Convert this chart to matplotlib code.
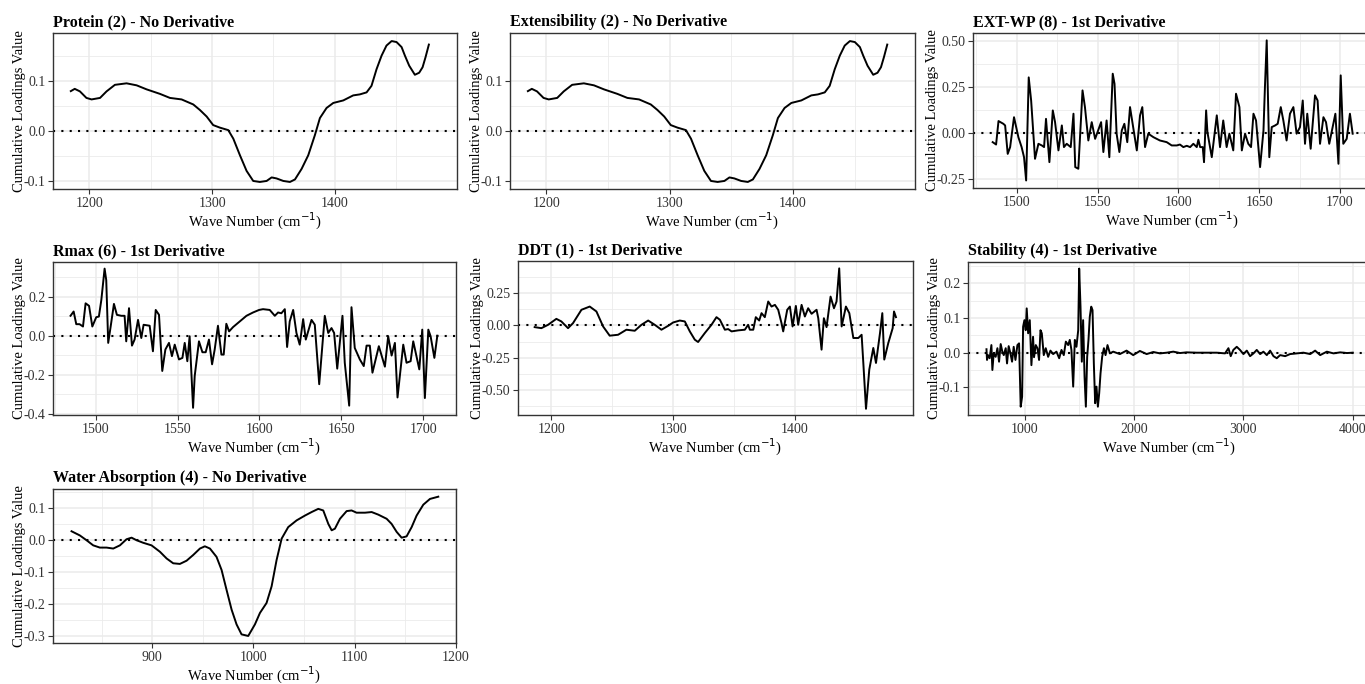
import matplotlib
matplotlib.use('Agg')
from matplotlib import pyplot as plt
from matplotlib.ticker import MultipleLocator, FormatStrFormatter

plt.rcParams['font.family'] = ['Liberation Serif', 'DejaVu Serif']
plt.rcParams['axes.unicode_minus'] = False

# ---- data ----
protein_x = [1185.0, 1188.2, 1192.4, 1197.7, 1201.9, 1208.8, 1214.1, 1220.9, 1230.4, 1238.6, 1246.7,
             1257.6, 1265.7, 1275.2, 1284.7, 1290.1, 1295.6, 1300.9, 1306.3, 1313.2, 1317.3, 1322.7,
             1328.1, 1333.5, 1338.9, 1344.4, 1348.5, 1352.5, 1358.0, 1363.4, 1367.5, 1372.9, 1378.3,
             1383.7, 1387.8, 1393.2, 1398.7, 1406.8, 1414.9, 1420.3, 1425.8, 1429.8, 1433.9,
             1438.0, 1442.0, 1446.2, 1450.2, 1454.3, 1457.0, 1460.5, 1465.1, 1468.6, 1471.4,
             1473.8, 1476.5]
protein_y = [0.0795, 0.084, 0.079, 0.066, 0.063, 0.066, 0.079, 0.092, 0.095, 0.091, 0.083, 0.074,
             0.066, 0.063, 0.053, 0.042, 0.029, 0.012, 0.007, 0.002, -0.015, -0.048,
             -0.079, -0.099, -0.101, -0.099, -0.092, -0.094, -0.099, -0.101, -0.096, -0.075, -0.048,
             -0.008, 0.026, 0.046, 0.056, 0.061, 0.071, 0.073, 0.077, 0.090, 0.123,
             0.150, 0.170, 0.179, 0.177, 0.167, 0.150, 0.130, 0.112, 0.116, 0.127,
             0.147, 0.172]

# extensibility loadings are the same as protein
ext_x = protein_x
ext_y = protein_y

extwp_x = [1485.1, 1487.2, 1488.7, 1491.7, 1492.8, 1494.4, 1495.9, 1498.3, 1501.0, 1503.0, 1504.5,
           1505.8, 1507.4, 1508.9, 1511.3, 1513.4, 1515.5, 1516.9, 1518.1, 1520.2, 1522.3, 1523.7,
           1525.8, 1527.9, 1529.2, 1530.9, 1533.4, 1535.1, 1536.2, 1538.1, 1540.7, 1542.2, 1544.3,
           1546.4, 1548.5, 1552.2, 1553.6, 1555.6, 1557.3, 1559.4, 1560.5, 1561.8, 1563.5, 1565.0,
           1566.6, 1568.4, 1570.1, 1572.2, 1574.3, 1576.3, 1577.7, 1579.4, 1581.4, 1584.6, 1588.6,
           1592.8, 1595.9, 1599.0, 1601.0, 1603.1, 1605.2, 1607.3, 1609.3, 1611.4, 1612.4, 1613.5,
           1615.1, 1615.9, 1617.2, 1618.0, 1620.7, 1623.8, 1625.8, 1627.8, 1629.9, 1631.6, 1634.0,
           1635.7, 1637.8, 1639.3, 1641.3, 1643.3, 1645.0, 1646.5, 1648.1, 1650.6, 1652.7, 1653.6,
           1654.7, 1656.3, 1657.8, 1659.9, 1661.5, 1663.4, 1665.0, 1667.0, 1669.1, 1671.2, 1673.2,
           1675.3, 1677.0, 1678.4, 1679.8, 1681.9, 1684.6, 1686.2, 1687.7, 1689.8, 1691.4, 1693.4,
           1697.2, 1699.1, 1700.5, 1702.1, 1704.2, 1706.2, 1707.9]
extwp_y = [-0.051, -0.064, 0.064, 0.049, 0.040, -0.115, -0.078, 0.085, -0.024, -0.078, -0.133,
           -0.260, 0.302, 0.176, -0.142, -0.060, -0.069, -0.078, 0.076, -0.160, 0.122, 0.058,
           -0.096, 0.040, -0.078, -0.060, -0.078, 0.104, -0.187, -0.196, 0.231, 0.140, -0.042,
           0.058, -0.033, 0.058, -0.105, 0.067, -0.133, 0.322, 0.267, -0.005, -0.105, 0.013,
           0.049, -0.051, 0.140, 0.022, -0.096, 0.095, 0.140, -0.078, -0.005, -0.024, -0.042,
           -0.051, -0.069, -0.069, -0.064, -0.078, -0.071, -0.078, -0.060, -0.078, -0.038, -0.078,
           -0.078, -0.160, 0.122, 0.004, -0.133, 0.095, -0.078, 0.067, -0.078, -0.005, -0.096,
           0.213, 0.140, -0.096, -0.005, -0.060, -0.078, 0.104, 0.067, -0.187, 0.013, 0.249,
           0.504, -0.133, 0.031, 0.040, 0.049, 0.140, 0.067, -0.042, 0.104, 0.140, -0.005,
           0.031, 0.176, -0.060, 0.104, -0.087, 0.204, 0.176, -0.060, 0.085, 0.058, -0.060,
           0.104, -0.169, 0.313, -0.060, -0.033, 0.104, -0.005]

rmax_x = [1484.7, 1486.6, 1488.2, 1490.2, 1492.3, 1493.9, 1496.0, 1498.0, 1500.4, 1502.0, 1503.5,
          1505.5, 1506.5, 1507.7, 1509.2, 1511.2, 1513.0, 1515.7, 1517.7, 1518.7, 1520.4, 1522.2,
          1523.8, 1525.9, 1527.9, 1529.3, 1533.0, 1535.0, 1536.7, 1538.7, 1540.7, 1542.6, 1544.8,
          1546.6, 1548.3, 1550.9, 1553.0, 1554.4, 1556.0, 1557.4, 1559.5, 1560.5, 1563.1, 1565.2,
          1567.2, 1569.2, 1571.1, 1572.7, 1574.7, 1576.8, 1578.2, 1579.8, 1581.5, 1583.9, 1588.0,
          1592.1, 1596.1, 1599.8, 1602.2, 1606.3, 1609.4, 1611.4, 1613.4, 1615.5, 1616.9, 1618.5,
          1620.6, 1622.6, 1624.6, 1626.7, 1628.3, 1631.8, 1633.8, 1636.5, 1639.9, 1642.0, 1644.0,
          1645.6, 1647.5, 1650.7, 1652.1, 1654.8, 1656.2, 1658.2, 1661.3, 1663.7, 1665.4, 1667.4,
          1669.0, 1672.9, 1676.6, 1678.6, 1680.7, 1682.7, 1684.3, 1687.8, 1689.8, 1692.3, 1693.9,
          1697.6, 1699.4, 1701.0, 1703.1, 1704.5, 1706.8, 1708.6]
rmax_y = [0.102, 0.124, 0.059, 0.059, 0.047, 0.166, 0.153, 0.047, 0.095, 0.098, 0.183,
          0.344, 0.285, -0.037, 0.047, 0.163, 0.107, 0.102, 0.102, -0.029, 0.141, -0.051,
          -0.020, 0.081, -0.012, 0.056, 0.051, -0.080, 0.132, 0.107, -0.181, -0.071, -0.037,
          -0.105, -0.046, -0.122, -0.114, -0.037, -0.131, -0.003, -0.370, -0.207, -0.029, -0.085,
          -0.085, -0.020, -0.147, -0.071, 0.051, -0.097, -0.097, 0.061, 0.022, 0.044, 0.073,
          0.102, 0.119, 0.132, 0.136, 0.132, 0.102, 0.119, 0.115, 0.136, -0.058, 0.073,
          0.132, 0.014, -0.046, 0.085, -0.020, 0.081, 0.056, -0.249, 0.102, 0.014, 0.039,
          0.014, -0.169, 0.102, -0.139, -0.359, 0.146, -0.063, -0.122, -0.156, -0.051, -0.051,
          -0.190, -0.054, -0.159, -0.003, -0.102, -0.037, -0.317, -0.046, -0.139, -0.131, -0.029,
          -0.173, 0.031, -0.320, 0.031, -0.003, -0.114, 0.000]

ddt_x = [1186.3, 1191.8, 1197.3, 1204.1, 1208.2, 1213.7, 1217.8, 1224.7, 1231.5, 1237.0, 1242.5,
         1247.9, 1254.8, 1261.6, 1268.5, 1274.0, 1279.5, 1284.9, 1290.4, 1295.9, 1300.0, 1305.5,
         1309.6, 1313.7, 1317.8, 1320.5, 1326.0, 1331.5, 1335.6, 1338.4, 1342.5, 1345.2, 1348.0,
         1353.4, 1358.9, 1361.6, 1363.0, 1365.8, 1367.9, 1370.7, 1372.6, 1375.3, 1378.1, 1380.8,
         1383.6, 1386.3, 1389.0, 1390.4, 1393.7, 1395.9, 1398.1, 1400.8, 1402.7, 1405.5, 1408.2,
         1410.9, 1413.7, 1417.8, 1419.2, 1421.9, 1423.8, 1426.0, 1429.3, 1432.1, 1434.2, 1436.4,
         1438.4, 1441.9, 1444.7, 1448.0, 1452.1, 1454.8, 1456.2, 1458.4, 1461.1, 1464.4, 1466.6,
         1469.9, 1471.8, 1473.4, 1476.7, 1480.3, 1481.4, 1483.0]
ddt_y = [-0.013, -0.021, 0.005, 0.051, 0.031, -0.021, 0.018, 0.121, 0.146, 0.108, -0.008,
         -0.079, -0.072, -0.033, -0.041, 0.005, 0.038, 0.005, -0.033, -0.003, 0.023, 0.038,
         0.031, -0.046, -0.110, -0.128, -0.059, 0.005, 0.064, 0.044, -0.033, -0.028, -0.046,
         -0.038, -0.033, 0.005, -0.033, -0.033, 0.064, 0.038, 0.095, 0.064, 0.185, 0.146,
         0.159, 0.121, 0.018, -0.046, 0.121, 0.146, -0.008, 0.151, 0.005, 0.159, 0.069,
         0.133, 0.090, 0.121, 0.056, -0.187, 0.056, -0.013, 0.223, 0.133, 0.185, 0.441,
         -0.008, 0.146, 0.095, -0.097, -0.097, -0.072, -0.290, -0.644, -0.341, -0.174, -0.290,
         -0.059, 0.095, -0.264, -0.136, -0.021, 0.108, 0.064]

stab_x = [650, 655, 664, 679, 695, 704, 716, 734, 750, 765, 780, 795, 808, 826, 838, 853, 869,
          884, 899, 915, 933, 948, 963, 976, 985, 997, 1009, 1018, 1031, 1046, 1061, 1076, 1085,
          1101, 1116, 1131, 1144, 1156, 1174, 1192, 1214, 1235, 1260, 1290, 1315, 1336, 1357,
          1376, 1397, 1412, 1427, 1443, 1458, 1473, 1489, 1498, 1510, 1522, 1534, 1547, 1559,
          1571, 1583, 1595, 1608, 1620, 1632, 1644, 1656, 1669, 1681, 1693, 1708, 1724, 1739,
          1757, 1779, 1809, 1870, 1931, 1992, 2053, 2115, 2176, 2237, 2298, 2359, 2420, 2481,
          2573, 2664, 2756, 2832, 2863, 2884, 2908, 2939, 2969, 3000, 3031, 3061, 3092, 3122,
          3153, 3183, 3214, 3244, 3275, 3305, 3336, 3382, 3427, 3489, 3550, 3611, 3656, 3702,
          3763, 3824, 3885, 3947, 4000]
stab_y = [0.010, -0.021, -0.007, -0.016, 0.022, -0.050, -0.002, -0.012, 0.013, -0.026, 0.025,
          0.003, -0.007, 0.013, -0.031, 0.019, -0.002, -0.026, 0.017, -0.021, 0.022, 0.027,
          -0.156, -0.127, 0.075, 0.094, 0.065, 0.128, 0.056, 0.094, -0.036, 0.046, -0.013,
          0.022, 0.013, -0.021, 0.065, 0.056, -0.007, 0.013, -0.012, 0.006, -0.004, 0.003,
          -0.016, 0.008, -0.007, 0.032, 0.022, 0.037, 0.008, -0.098, 0.037, 0.017, 0.065,
          0.243, 0.133, -0.026, 0.094, -0.069, -0.156, -0.012, 0.037, 0.104, 0.133, 0.123,
          -0.031, -0.146, -0.098, -0.156, -0.117, -0.060, -0.012, 0.013, -0.007, 0.022, -0.002,
          0.003, -0.004, 0.006, -0.007, 0.005, -0.004, 0.002, -0.002, 0.000, 0.003, -0.001,
          0.001, 0.000, 0.000, 0.000, -0.002, 0.013, -0.010, 0.008, 0.017, 0.008, -0.004,
          0.006, -0.010, -0.002, 0.008, -0.004, 0.003, -0.007, 0.006, -0.010, -0.016, -0.007,
          -0.010, -0.004, -0.002, 0.000, -0.004, 0.006, -0.007, 0.003, -0.002, 0.001, -0.001,
          0.000]

water_x = [820.3, 828.5, 835.1, 841.7, 848.3, 854.9, 861.5, 868.1, 874.6, 879.6, 884.5, 891.1,
           899.3, 907.6, 914.2, 920.7, 927.3, 933.9, 940.5, 947.1, 952.0, 957.0, 963.5, 968.5,
           973.4, 978.4, 983.3, 988.2, 994.8, 1001.4, 1006.4, 1012.9, 1017.9, 1022.8, 1027.8,
           1034.3, 1042.6, 1050.8, 1057.4, 1064.0, 1068.9, 1073.9, 1077.2, 1080.4, 1085.4, 1092.0,
           1096.9, 1101.8, 1110.1, 1116.7, 1123.2, 1131.5, 1136.4, 1141.4, 1146.3, 1151.2, 1156.2,
           1161.1, 1167.7, 1174.3, 1182.5]
water_y = [0.026, 0.013, -0.002, -0.018, -0.025, -0.025, -0.028, -0.018, 0.001, 0.006, -0.002, -0.010,
           -0.018, -0.038, -0.059, -0.074, -0.076, -0.066, -0.048, -0.028, -0.021, -0.028, -0.054, -0.095,
           -0.157, -0.219, -0.265, -0.296, -0.301, -0.265, -0.229, -0.198, -0.146, -0.064, 0.003,
           0.039, 0.060, 0.075, 0.086, 0.096, 0.091, 0.049, 0.029, 0.034, 0.065, 0.089,
           0.091, 0.084, 0.084, 0.086, 0.078, 0.065, 0.049, 0.024, 0.006, 0.010, 0.039,
           0.075, 0.109, 0.127, 0.134]

W, H = 1365, 684
fig = plt.figure(figsize=(W / 100, H / 100), dpi=100)


def panel(box, x, y, title, xlim, ylim, xmaj, ymaj, yfmt):
    left, top, right, bottom = box
    ax = fig.add_axes([left / W, 1 - bottom / H, (right - left) / W, (bottom - top) / H])
    ax.set_axisbelow(True)
    ax.xaxis.set_major_locator(MultipleLocator(xmaj))
    ax.xaxis.set_minor_locator(MultipleLocator(xmaj / 2))
    ax.yaxis.set_major_locator(MultipleLocator(ymaj))
    ax.yaxis.set_minor_locator(MultipleLocator(ymaj / 2))
    ax.yaxis.set_major_formatter(FormatStrFormatter(yfmt))
    ax.grid(which='major', color='#EBEBEB', lw=1.1)
    ax.grid(which='minor', color='#EBEBEB', lw=0.6)
    ax.axhline(0, color='black', lw=1.5, ls=(0, (1, 3)))
    ax.plot(x, y, color='black', lw=1.4)
    ax.set_xlim(xlim)
    ax.set_ylim(ylim)
    for s in ax.spines.values():
        s.set_color('#333333')
        s.set_linewidth(1.0)
    ax.tick_params(which='major', length=3.5, width=0.8, color='#333333',
                   labelsize=10, labelcolor='#333333', pad=2)
    ax.tick_params(which='minor', length=0)
    ax.set_xlabel('Wave Number (cm$^{-1}$)', fontsize=10.5, labelpad=1)
    ax.set_ylabel('Cumulative Loadings Value', fontsize=10.5, labelpad=-1.5)
    ax.set_title(title, loc='left', fontsize=11.5, fontweight='bold', pad=5)
    return ax


panel((53, 33, 456.5, 189), protein_x, protein_y, 'Protein (2) - No Derivative',
      (1170.5, 1499), (-0.115, 0.195), 100, 0.1, '%.1f')
panel((510, 33, 915, 189), ext_x, ext_y, 'Extensibility (2) - No Derivative',
      (1170.5, 1499), (-0.115, 0.195), 100, 0.1, '%.1f')
panel((973.3, 33, 1370.6, 188), extwp_x, extwp_y, 'EXT-WP (8) - 1st Derivative',
      (1473.1, 1719), (-0.301, 0.544), 50, 0.25, '%.2f')
panel((53, 262, 456, 415), rmax_x, rmax_y, 'Rmax (6) - 1st Derivative',
      (1474, 1720), (-0.407, 0.378), 50, 0.2, '%.1f')
panel((518, 261, 913, 415), ddt_x, ddt_y, 'DDT (1) - 1st Derivative',
      (1172.6, 1497), (-0.692, 0.498), 100, 0.25, '%.2f')
panel((968, 262, 1371, 415), stab_x, stab_y, 'Stability (4) - 1st Derivative',
      (481, 4167), (-0.18, 0.262), 1000, 0.1, '%.1f')
panel((53, 489, 456, 643), water_x, water_y, 'Water Absorption (4) - No Derivative',
      (802, 1200), (-0.323, 0.158), 100, 0.1, '%.1f')

fig.savefig('out.png', dpi=100)
